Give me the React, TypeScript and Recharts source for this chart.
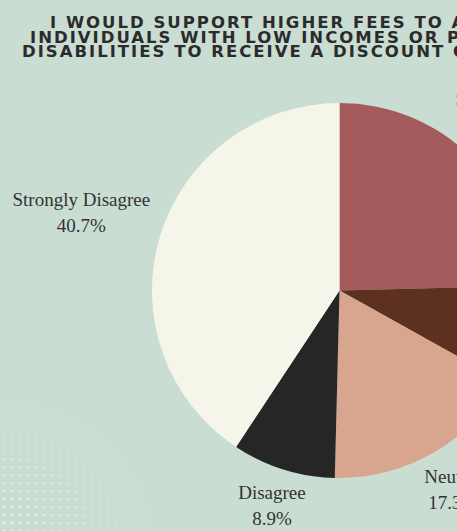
import { PieChart, Pie, Cell } from "recharts";

const answers = ["Strongly Agree", "Agree", "Neutral", "Disagree", "Strongly Disagree"];
const shares = [24.6, 8.5, 17.3, 8.9, 40.7];
const sliceColors = ["#a55a5b", "#5c3120", "#d8a58e", "#262626", "#f5f5ea"];

const titleLines = [
  "I WOULD SUPPORT HIGHER FEES TO ALLOW",
  "INDIVIDUALS WITH LOW INCOMES OR PEOPLE WITH",
  "DISABILITIES TO RECEIVE A DISCOUNT ON",
];
const titleStarts = [50, 30, 22];

const data = answers.map((name, i) => ({ name, value: shares[i] }));

const RAD = Math.PI / 180;

function renderLabel(props: any) {
  const { cx, cy, midAngle, outerRadius, name, value } = props;
  const cos = Math.cos(-midAngle * RAD);
  const sin = Math.sin(-midAngle * RAD);
  // push wide labels further out so their inner edge clears the pie
  const d = outerRadius + 30 + Math.abs(cos) * name.length * 3.2;
  const x = cx + d * cos;
  const y = cy + d * sin;
  return (
    <text
      x={x}
      y={y}
      textAnchor="middle"
      fill="#333"
      fontFamily="'Liberation Serif', serif"
      fontSize={19}
    >
      <tspan x={x} y={y - 13} dominantBaseline="central">
        {name}
      </tspan>
      <tspan x={x} y={y + 13} dominantBaseline="central">
        {value.toFixed(1)}%
      </tspan>
    </text>
  );
}

export default function App() {
  return (
    <div
      style={{
        position: "absolute",
        left: 0,
        top: 0,
        width: 457,
        height: 531,
        overflow: "hidden",
        background: "#c9ddd3",
      }}
    >
      <svg width={160} height={140} style={{ position: "absolute", left: 0, bottom: 0 }}>
        <defs>
          <pattern id="dots" width={8} height={8} patternUnits="userSpaceOnUse">
            <circle cx={4} cy={4} r={1.6} fill="#fff" />
          </pattern>
          <radialGradient id="fade" cx="0" cy="1" r="1">
            <stop offset="0" stopColor="#fff" stopOpacity={0.55} />
            <stop offset="1" stopColor="#fff" stopOpacity={0} />
          </radialGradient>
          <mask id="fadeMask">
            <rect width={160} height={140} fill="url(#fade)" />
          </mask>
        </defs>
        <rect width={160} height={140} fill="url(#dots)" mask="url(#fadeMask)" />
      </svg>
      {titleLines.map((line, i) => (
        <div
          key={i}
          style={{
            position: "absolute",
            left: titleStarts[i],
            top: 16 + i * 14.7,
            whiteSpace: "nowrap",
            fontFamily: "'DejaVu Sans', sans-serif",
            fontWeight: 700,
            fontSize: 16.5,
            letterSpacing: 2,
            lineHeight: "14px",
            color: "#2b2b2b",
          }}
        >
          {line}
        </div>
      ))}
      <div style={{ position: "absolute", left: 0, top: 0 }}>
        <PieChart width={720} height={531} margin={{ top: 0, right: 0, bottom: 0, left: 0 }}>
          <Pie
            data={data}
            dataKey="value"
            nameKey="name"
            cx={339.5}
            cy={290.5}
            outerRadius={187.5}
            startAngle={90}
            endAngle={-270}
            stroke="none"
            label={renderLabel}
            labelLine={false}
            isAnimationActive={false}
          >
            {data.map((d, i) => (
              <Cell key={d.name} fill={sliceColors[i]} />
            ))}
          </Pie>
        </PieChart>
      </div>
    </div>
  );
}
